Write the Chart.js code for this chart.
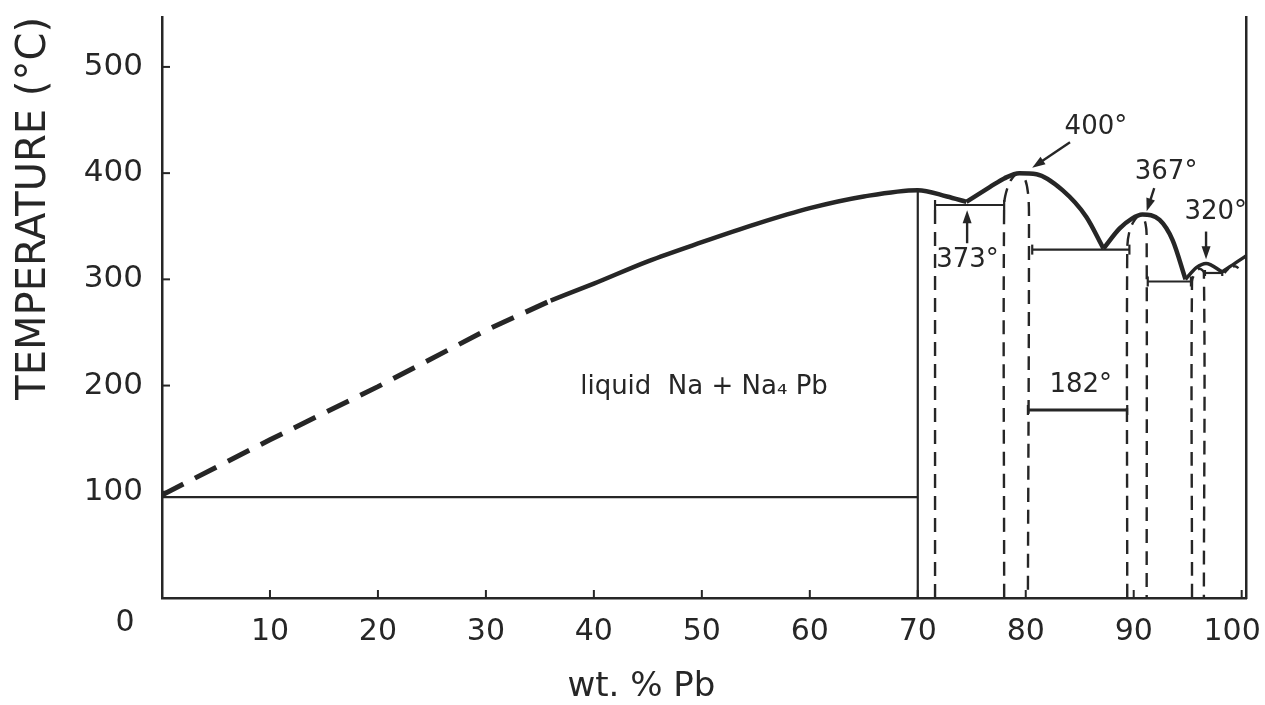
<!DOCTYPE html>
<html>
<head>
<meta charset="utf-8">
<script src="https://cdn.jsdelivr.net/npm/chart.js@4.4.1/dist/chart.umd.min.js"></script>
<style>
  html, body { margin: 0; background: #fff; }
  #wrap { width: 1265px; height: 705px; }
</style>
</head>
<body>
<div id="wrap"><canvas id="diagram"></canvas></div>
<script>
// Na-Pb phase diagram (wt.% Pb, deg C)
const xTicks = [10, 20, 30, 40, 50, 60, 70, 80, 90, 100];
const yTicks = [100, 200, 300, 400, 500];

// liquidus, dashed part near Na
const liqDashX = [0, 10, 20, 30, 36];
const liqDashT = [97, 149, 199, 252, 280];
// liquidus, solid branches between the eutectic cusps
const liqAX = [36, 40, 45, 50, 55, 60, 65, 70, 72.7, 74.5];
const liqAT = [280, 296, 317, 335, 352, 367, 378, 384, 378, 373];
const liqBX = [74.5, 76.7, 78.0, 79.4, 81.0, 83.4, 85.6, 87.2];
const liqBT = [373, 387, 395, 400, 399, 384, 359, 329];
const liqCX = [87.2, 88.7, 89.8, 90.8, 92.4, 93.6, 94.8];
const liqCT = [329, 348, 357, 361, 356, 337, 300];
const liqDX = [94.8, 95.8, 96.7, 98.2];
const liqDT = [300, 311, 315, 307];
const liqEX = [98.2, 99.5, 100.4];
const liqET = [307, 316, 322];

// horizontal invariant lines: [x start, x end, temperature]
const eutNa = [0, 70, 95];
const line373 = [71.6, 78.0, 370];
const line328 = [80.6, 89.6, 328];
const line182 = [80.2, 89.4, 177];
const line297 = [91.3, 95.3, 298];
const line306 = [96.6, 98.2, 306];

// solid vertical at Na4Pb side
const solidVX = [70, 70];
const solidVT = [0, 384];

// dashed phase boundaries
const dashV1X = [71.6, 71.6];
const dashV1T = [0, 370];
const dome1X = [78.0, 78.0, 78.3, 78.8, 79.4, 79.9, 80.2, 80.3, 80.2];
const dome1T = [0, 370, 386, 396, 400, 395, 382, 360, 0];
const dome2X = [89.4, 89.4, 89.6, 90.1, 90.7, 91.1, 91.2, 91.2];
const dome2T = [0, 328, 345, 356, 361, 352, 338, 0];
const dome3X = [95.4, 95.4, 95.7, 96.1, 96.5, 96.5];
const dome3T = [0, 298, 306, 310, 306, 0];
const dome4X = [98.4, 98.9, 99.5, 99.9];
const dome4T = [306, 311, 312, 307];

// annotations
const noteText = ['400°', '373°', '367°', '320°', '182°', 'liquid  Na + Na₄ Pb'];
const noteX = [86.5, 74.6, 93.0, 97.6, 85.1, 50.2];
const noteT = [443, 318, 401, 363, 200, 198];
const arrowX0 = [84.1, 74.57, 91.9, 96.7];
const arrowT0 = [429, 334, 386, 345];
const arrowX1 = [80.6, 74.57, 91.2, 96.7];
const arrowT1 = [405, 365, 364, 319];
const xTitle = 'wt. % Pb';

const INK = '#262626';
const FONT = "'DejaVu Sans', sans-serif";

function pts(xs, ts) {
  return xs.map((x, i) => ({ x: x, y: ts[i] }));
}
function hline(h) {
  return [{ x: h[0], y: h[2] }, { x: h[1], y: h[2] }];
}

const liqStyle = { borderColor: INK, borderWidth: 4.5, pointRadius: 0, showLine: true, cubicInterpolationMode: 'monotone' };
const thinStyle = { borderColor: INK, borderWidth: 2.2, pointRadius: 0, showLine: true, tension: 0 };
const capStyle = { borderColor: INK, borderWidth: 2.2, showLine: true, tension: 0,
  pointStyle: 'line', rotation: 90, pointRadius: 5, pointBorderWidth: 2.2, pointBorderColor: INK };
const dashStyle = { borderColor: INK, borderWidth: 2.4, borderDash: [14, 8], pointRadius: 0, showLine: true, tension: 0 };
const domeStyle = Object.assign({}, dashStyle, { tension: 0.35 });

const datasets = [
  Object.assign({ data: pts(liqDashX, liqDashT) }, liqStyle, { borderWidth: 5, borderDash: [24, 13], cubicInterpolationMode: 'default', tension: 0 }),
  Object.assign({ data: pts(liqAX, liqAT) }, liqStyle),
  Object.assign({ data: pts(liqBX, liqBT) }, liqStyle),
  Object.assign({ data: pts(liqCX, liqCT) }, liqStyle),
  Object.assign({ data: pts(liqDX, liqDT) }, liqStyle, { borderWidth: 3.5 }),
  Object.assign({ data: pts(liqEX, liqET) }, liqStyle, { borderWidth: 3.5 }),
  Object.assign({ data: hline(eutNa) }, thinStyle),
  Object.assign({ data: pts(solidVX, solidVT) }, thinStyle),
  Object.assign({ data: hline(line373) }, capStyle),
  Object.assign({ data: hline(line328) }, capStyle),
  Object.assign({ data: hline(line182) }, capStyle, { borderWidth: 2.8 }),
  Object.assign({ data: hline(line297) }, capStyle),
  Object.assign({ data: hline(line306) }, capStyle, { pointRadius: 3 }),
  Object.assign({ data: pts(dashV1X, dashV1T) }, dashStyle),
  Object.assign({ data: pts(dome1X, dome1T) }, domeStyle),
  Object.assign({ data: pts(dome2X, dome2T) }, domeStyle),
  Object.assign({ data: pts(dome3X, dome3T) }, domeStyle),
  Object.assign({ data: pts(dome4X, dome4T) }, domeStyle, { borderDash: [6, 5] })
];

// inward ticks, corner zero, x title, arrows and text notes
const decor = {
  id: 'decor',
  afterDraw(chart) {
    const ctx = chart.ctx;
    const xs = chart.scales.x, ys = chart.scales.y;
    const area = chart.chartArea;
    ctx.save();
    ctx.strokeStyle = INK;
    ctx.fillStyle = INK;
    ctx.lineWidth = 2;
    xTicks.forEach(v => {
      const px = xs.getPixelForValue(v);
      ctx.beginPath(); ctx.moveTo(px, area.bottom); ctx.lineTo(px, area.bottom - 8); ctx.stroke();
    });
    yTicks.forEach(v => {
      const py = ys.getPixelForValue(v);
      ctx.beginPath(); ctx.moveTo(area.left, py); ctx.lineTo(area.left + 8, py); ctx.stroke();
    });

    ctx.textAlign = 'center';
    ctx.textBaseline = 'middle';
    ctx.font = '30px ' + FONT;
    ctx.fillText('0', area.left - 37, area.bottom + 25);
    ctx.font = '34px ' + FONT;
    ctx.fillText(xTitle, xs.getPixelForValue(44.4), area.bottom + 89);

    // arrows
    ctx.lineWidth = 2.4;
    arrowX0.forEach((x0, i) => {
      const ax = xs.getPixelForValue(x0), ay = ys.getPixelForValue(arrowT0[i]);
      const bx = xs.getPixelForValue(arrowX1[i]), by = ys.getPixelForValue(arrowT1[i]);
      const ang = Math.atan2(by - ay, bx - ax);
      ctx.beginPath(); ctx.moveTo(ax, ay); ctx.lineTo(bx - 8 * Math.cos(ang), by - 8 * Math.sin(ang)); ctx.stroke();
      ctx.beginPath();
      ctx.moveTo(bx, by);
      ctx.lineTo(bx - 13 * Math.cos(ang) + 4.5 * Math.sin(ang), by - 13 * Math.sin(ang) - 4.5 * Math.cos(ang));
      ctx.lineTo(bx - 13 * Math.cos(ang) - 4.5 * Math.sin(ang), by - 13 * Math.sin(ang) + 4.5 * Math.cos(ang));
      ctx.closePath(); ctx.fill();
    });

    ctx.font = '26px ' + FONT;
    noteText.forEach((t, i) => {
      ctx.fillText(t, xs.getPixelForValue(noteX[i]), ys.getPixelForValue(noteT[i]));
    });
    ctx.restore();
  }
};

function noEdgePad(s) {
  s.paddingLeft = 0; s.paddingRight = 0; s.paddingTop = 0; s.paddingBottom = 0;
}

new Chart(document.getElementById('diagram'), {
  type: 'scatter',
  data: { datasets: datasets },
  options: {
    responsive: true,
    maintainAspectRatio: false,
    animation: false,
    layout: { padding: { top: 17, left: 0, right: 0, bottom: 0 } },
    plugins: { legend: { display: false }, tooltip: { enabled: false } },
    scales: {
      x: {
        type: 'linear', position: 'bottom', min: 0, max: 100.4,
        afterFit: s => { s.height = 107; noEdgePad(s); },
        afterBuildTicks: s => { s.ticks = [0].concat(xTicks).map(v => ({ value: v })); },
        grid: { display: false, drawTicks: false },
        border: { display: true, color: INK, width: 2.5 },
        ticks: {
          padding: 16, color: INK, font: { family: FONT, size: 30 },
          // last label sits against the frame edge, nudge it left like the original
          callback: v => (v === 0 ? '' : v === 100 ? '100  ' : String(v))
        }
      },
      y: {
        type: 'linear', position: 'left', min: 0, max: 547,
        afterFit: s => { s.width = 162; noEdgePad(s); },
        grid: { display: false, drawTicks: false },
        border: { display: true, color: INK, width: 2.5 },
        ticks: {
          stepSize: 100, padding: 19, color: INK, font: { family: FONT, size: 31 },
          callback: v => (v > 0 && v % 100 === 0 ? v : '')
        },
        title: { display: true, text: 'TEMPERATURE (°C)', align: 'end', color: INK, font: { family: FONT, size: 40 }, padding: { top: 11, bottom: 0 } }
      },
      y2: {
        type: 'linear', position: 'right', min: 0, max: 547,
        afterFit: s => { s.width = 19; noEdgePad(s); },
        grid: { display: false, drawTicks: false },
        border: { display: true, color: INK, width: 2.5 },
        ticks: { display: false }
      }
    }
  },
  plugins: [decor]
});
</script>
</body>
</html>
